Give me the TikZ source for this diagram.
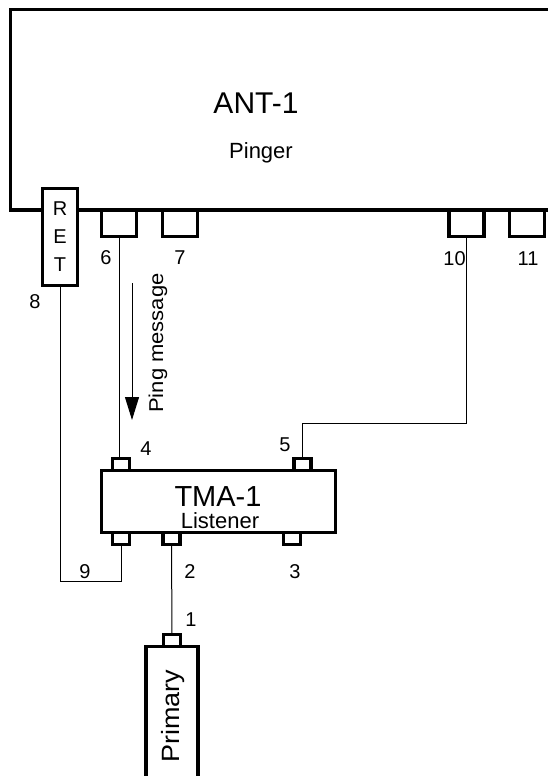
\documentclass[tikz,border=0pt]{standalone}
\usepackage{fontspec}
\setmainfont{Liberation Sans}
\usetikzlibrary{arrows.meta}

\begin{document}
\begin{tikzpicture}[x=1pt, y=-1pt,
  box/.style={draw, line width=3.2pt, fill=white, inner sep=0pt, outer sep=0pt},
  bigpin/.style={box, minimum width=35pt, minimum height=26.5pt, anchor=north},
  smallpin/.style={box, minimum width=17pt, minimum height=12pt},
  wire/.style={line width=1pt},
  num/.style={inner sep=0pt, font=\fontsize{20}{20}\selectfont}]
\useasboundingbox (0,0) rectangle (548,776);
\clip (0,0) rectangle (548,776);
% pinger:
\node[box, anchor=north west, minimum width=560pt, minimum height=200.5pt] (ant) at (10.5,9.5) {};
\node[inner sep=0pt, anchor=base, font=\fontsize{30}{30}\selectfont] (anttitle) at (256,113.5) {ANT-1};
\node[inner sep=0pt, anchor=base, font=\fontsize{22}{22}\selectfont] (antrole) at (261,158) {Pinger};
\node[box, minimum width=35pt, minimum height=97pt, align=center,
  font=\fontsize{20}{28}\selectfont] (ret) at (60,237) {R\\E\\T};
\node[bigpin] (p6) at (119,210) {};
\node[bigpin] (p7) at (180,210) {};
\node[bigpin] (p10) at (466.5,210) {};
\node[bigpin] (p11) at (527,210) {};
\node[num] (l6) at (106,258) {6};
\node[num] (l7) at (180,258) {7};
\node[num] (l10) at (454.5,259) {10};
\node[num] (l11) at (528,259) {11};
\node[num] (l8) at (35,302) {8};
% listener:
\node[box, minimum width=234pt, minimum height=62pt] (tma) at (218.5,501.5) {};
\node[inner sep=0pt, anchor=base, font=\fontsize{29}{29}\selectfont] (tmatitle) at (218,506) {TMA-1};
\node[inner sep=0pt, anchor=base, font=\fontsize{22}{22}\selectfont] (tmarole) at (220,528) {Listener};
\node[smallpin, anchor=south] (p4) at (121,470.5) {};
\node[smallpin, anchor=south] (p5) at (302.5,470.5) {};
\node[smallpin, anchor=north] (p9) at (121,532.5) {};
\node[smallpin, anchor=north] (p2) at (171.5,532.5) {};
\node[smallpin, anchor=north] (p3) at (292,532.5) {};
\node[num] (l4) at (146,448.5) {4};
\node[num] (l5) at (285,445) {5};
\node[num] (l9) at (85,572) {9};
\node[num] (l2) at (190,572) {2};
\node[num] (l3) at (295,572) {3};
% primary:
\node[smallpin, anchor=south] (p1) at (172,646.5) {};
\node[box, anchor=north, minimum width=52pt, minimum height=200pt] (prim) at (172,646.5) {};
\node[inner sep=0pt, rotate=90, xscale=1.08, font=\fontsize{25}{25}\selectfont] (primtext) at (173,716) {Primary};
\node[num] (l1) at (191,620) {1};
% wires:
\coordinate (c9) at (60,581);
\coordinate (c5) at (302.5,423);
\draw[wire] (p6.south) -- (p6.south |- p4.north);
\draw[wire] (ret.south) -- (c9) -| (p9.south);
\draw[wire] (p10.south) |- (c5) -- (p5.north);
\draw[wire] (p2.south) -- (p1.north);
% ping message:
\coordinate (pingA) at (132,283);
\coordinate (pingB) at (132,420);
\draw[wire, -{Triangle[length=23pt, width=14pt]}] (pingA) -- (pingB);
\node[inner sep=0pt, rotate=90, xscale=1.1, font=\fontsize{20}{20}\selectfont] (pingtext) at (158,343) {Ping message};
\end{tikzpicture}
\end{document}
